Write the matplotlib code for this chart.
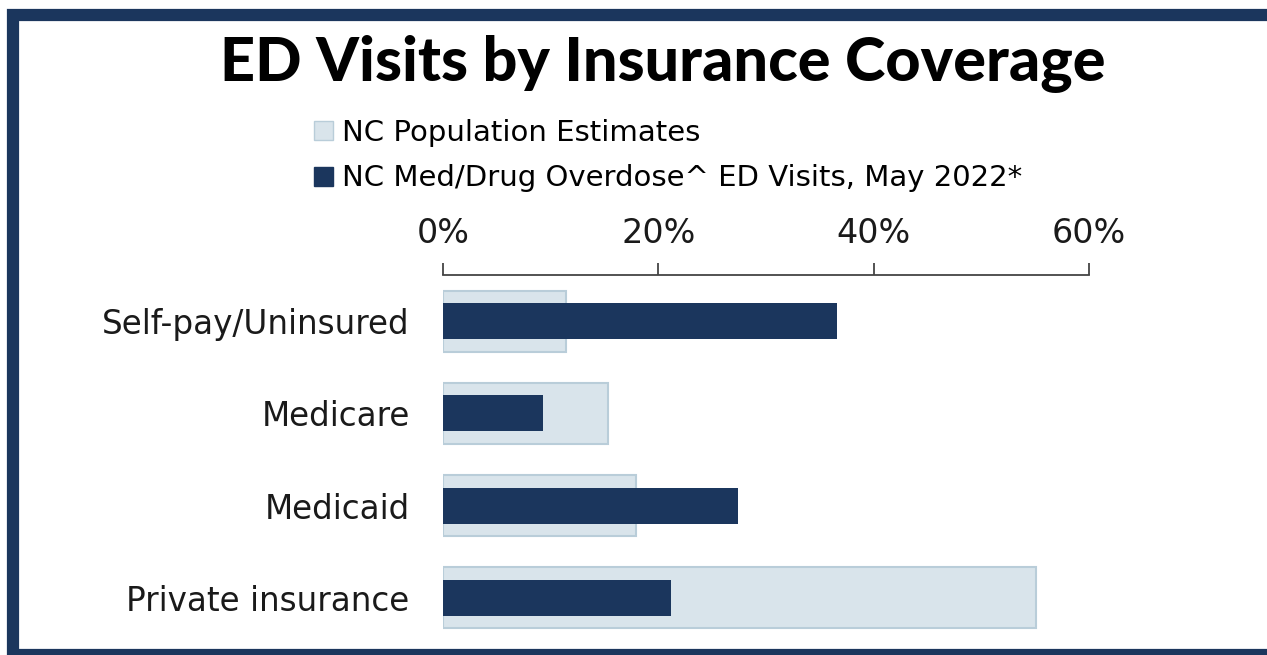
import matplotlib.pyplot as plt
from matplotlib.patches import Rectangle, Patch

# data (percent)
categories = ["Self-pay/Uninsured", "Medicare", "Medicaid", "Private insurance"]
population = [11.4, 15.3, 17.9, 55.1]
ed_visits = [36.6, 9.3, 27.4, 21.2]
ticks = [0, 20, 40, 60]
tick_labels = ["0%", "20%", "40%", "60%"]

navy = "#1b365d"
light = "#d9e4eb"
light_edge = "#b9cdd9"
txt = "#1a1a1a"

fig = plt.figure(figsize=(12.67, 6.55), dpi=100)
fig.patch.set_facecolor("white")

ax = fig.add_axes([443 / 1267, 1 - 644 / 655, (1089 - 443) / 1267, (644 - 275) / 655])

y = list(range(len(categories)))
ax.barh(y, population, height=0.66, color=light, edgecolor=light_edge, linewidth=1.5, zorder=2)
ax.barh(y, ed_visits, height=0.39, color=navy, zorder=3)

ax.set_xlim(0, 60)
ax.set_ylim(len(categories) - 0.5, -0.5)
ax.set_yticks(y)
ax.set_yticklabels(categories, fontsize=23.5, family="DejaVu Sans", color=txt)
ax.tick_params(axis="y", length=0, pad=24)

ax.xaxis.tick_top()
ax.set_xticks(ticks)
ax.set_xticklabels(tick_labels, fontsize=24, family="DejaVu Sans", color=txt)
ax.tick_params(axis="x", direction="out", length=9, width=1.3, color="#444444", pad=9)

for side in ["right", "bottom", "left"]:
    ax.spines[side].set_visible(False)
ax.spines["top"].set_color("#444444")
ax.spines["top"].set_linewidth(1.3)

# title
fig.text(663 / 1267, 1 - 64 / 655, "ED Visits by Insurance Coverage", ha="center", va="center",
         fontsize=44, fontweight="black", family="Lato", color="black")

# legend
handles = [Patch(facecolor=light, edgecolor=light_edge, linewidth=1),
           Patch(facecolor=navy, edgecolor=navy)]
labels = ["NC Population Estimates", "NC Med/Drug Overdose^ ED Visits, May 2022*"]
fig.legend(handles, labels, loc="upper left", bbox_to_anchor=(314 / 1267, 1 - 119 / 655),
           frameon=False, prop={"family": "DejaVu Sans", "size": 21},
           handlelength=0.65, handleheight=0.65, handletextpad=0.3, labelspacing=0.6,
           borderpad=0, borderaxespad=0)

# dark frame around the figure
fig.patches.append(Rectangle((12.5 / 1267, 0.0), 1.1, 1 - 15 / 655,
                             transform=fig.transFigure, fill=False,
                             edgecolor=navy, linewidth=8.8, zorder=10))

fig.savefig("out.png", dpi=100)
